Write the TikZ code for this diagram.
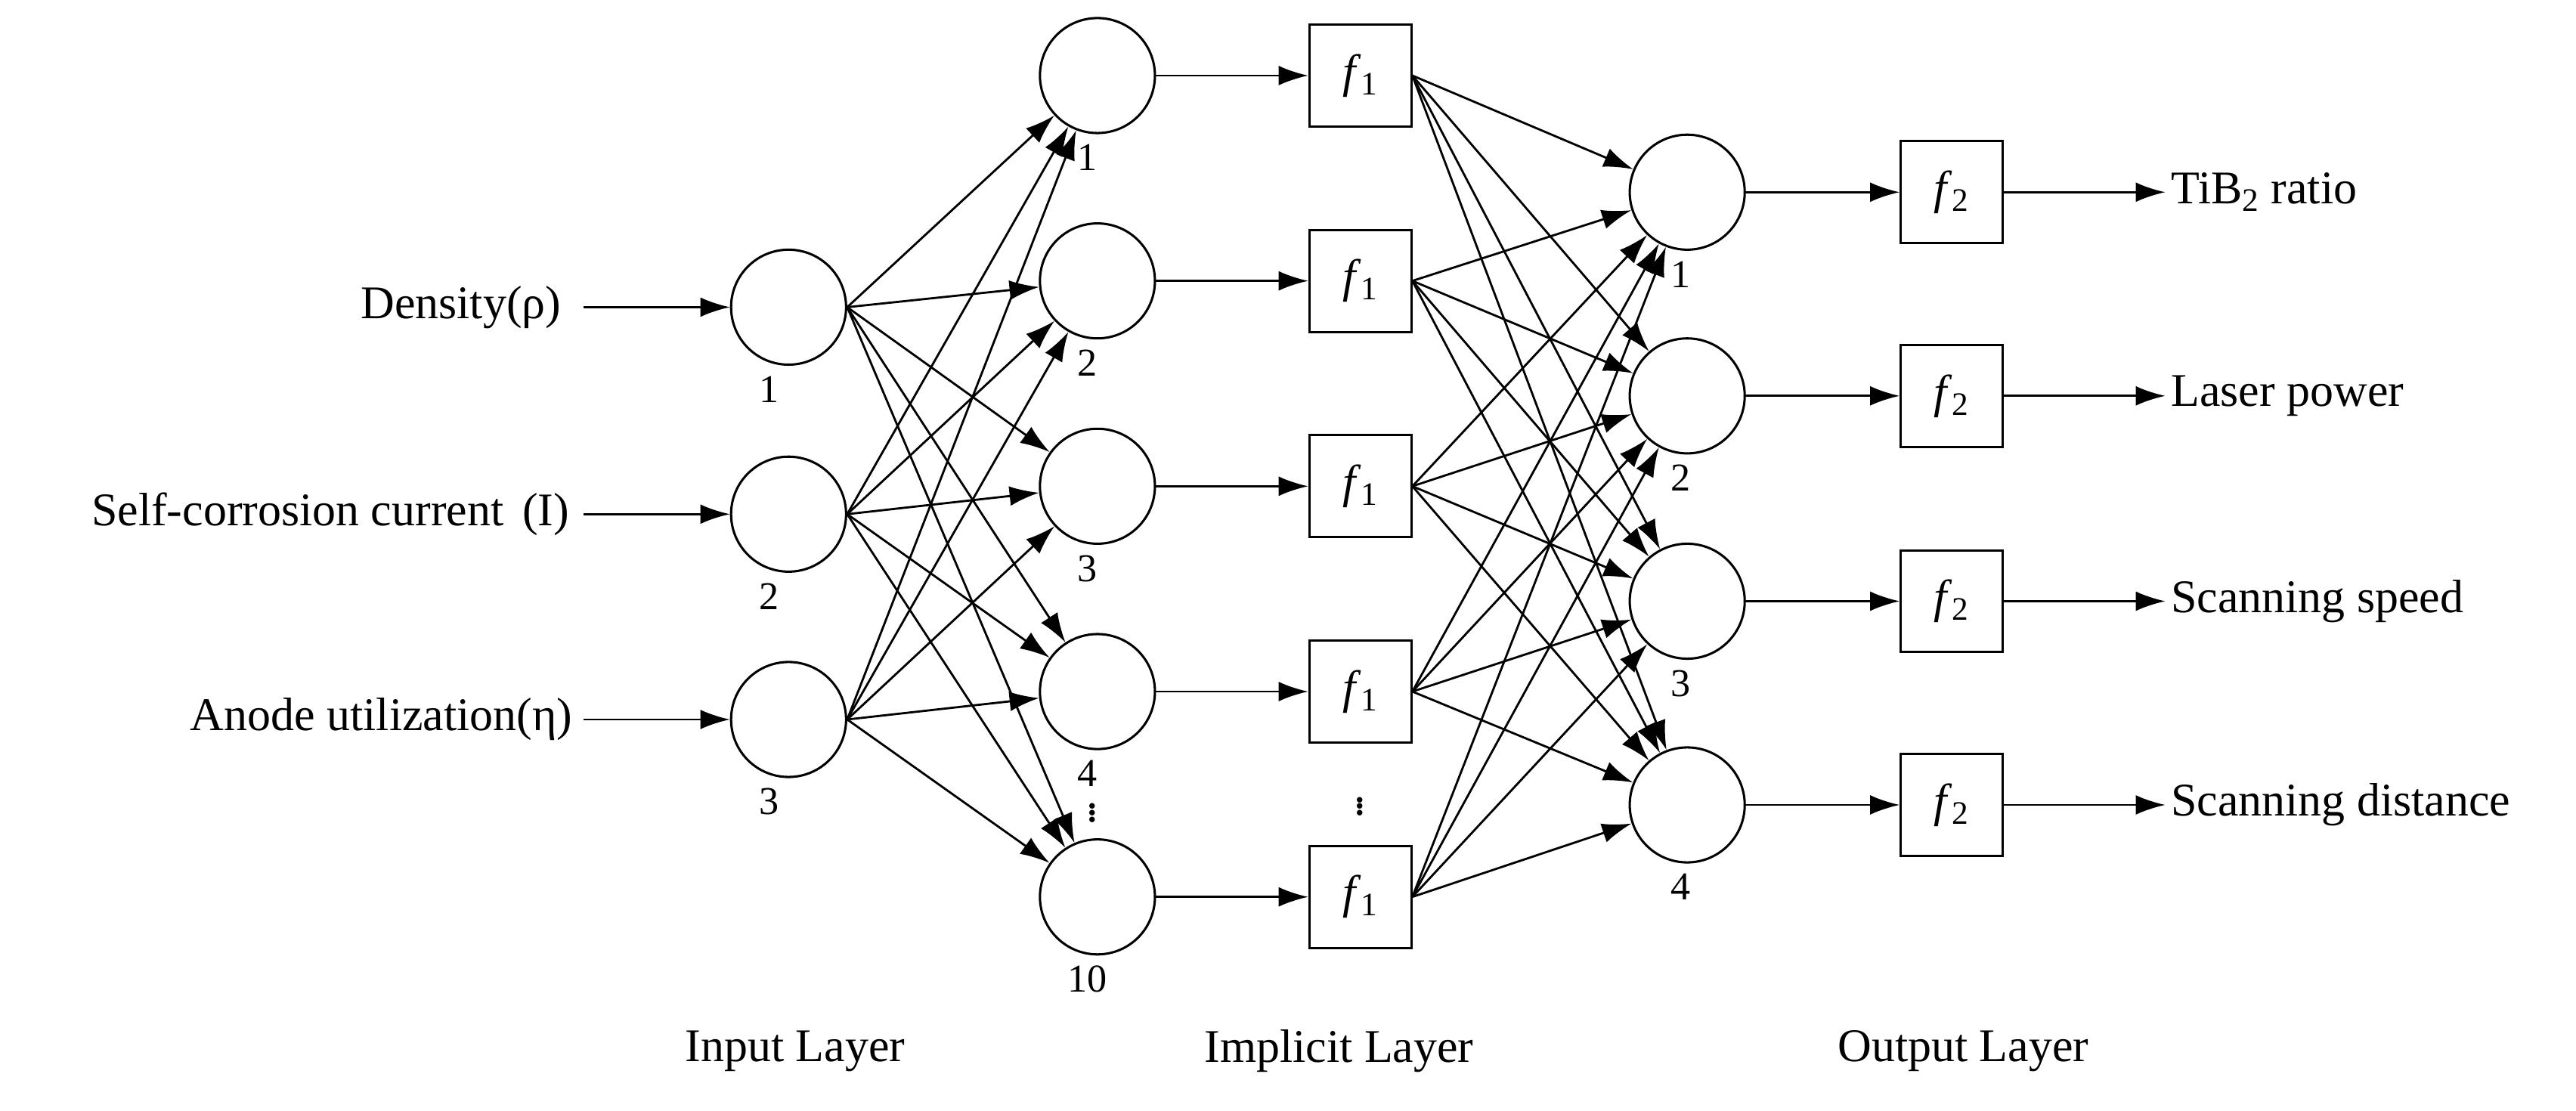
\documentclass[tikz,border=0pt]{standalone}
\usepackage{fontspec}
\setmainfont{Liberation Serif}
\usetikzlibrary{arrows.meta}
\begin{document}
\begin{tikzpicture}[x=1pt,y=-1pt,
  every node/.style={font=\fontsize{28.5}{32}\selectfont},
  neu/.style={circle,draw,line width=1.4pt,minimum size=70pt,inner sep=0},
  box/.style={draw,line width=1.4pt,minimum width=62pt,minimum height=62pt,inner sep=0},
  con/.style={line width=1.3pt,-{Latex[length=18pt,width=12pt]}},
  num/.style={font=\fontsize{24}{28}\selectfont}]
\useasboundingbox (0,0) rectangle (1568,676);
% input
\foreach \i/\y in {1/187,2/313,3/438}{
  \node[neu] (in\i) at (480,\y) {};
  \node[num] at (468,\y+50) {\i};
}
\node[anchor=east] (t1) at (345,187) {Density(ρ)};
\node[anchor=east] (t2) at (350,313) {Self-corrosion current\hspace{0.4em}(I)};
\node[anchor=east] (t3) at (352,438) {Anode utilization(η)};
\coordinate (s1) at (355,187);\coordinate (s2) at (355,313);\coordinate (s3) at (355,438);
\foreach \i in {1,2,3}{\draw[con] (s\i) -- (in\i);}
% hidden
\foreach \i/\y/\l in {1/46/1,2/171/2,3/296/3,4/421/4,5/546/10}{
  \node[neu] (h\i) at (668,\y) {};
  \node[num] at (662,\y+50) {\l};
  \node[box] (f\i) at (828,\y) {\textit{f}\textsubscript{1}};
  \draw[con] (h\i) -- (f\i);
}
\node at (665,492) {$\vdots$};
\node at (828,488) {$\vdots$};
\foreach \i in {1,2,3}{\foreach \j in {1,...,5}{\draw[con] (in\i.east) -- (h\j);}}
% output
\foreach \i/\y/\t in {1/117/{TiB\textsubscript{2} ratio},2/241/{Laser power},3/366/{Scanning speed},4/490/{Scanning distance}}{
  \node[neu] (o\i) at (1027,\y) {};
  \node[num] at (1023,\y+50) {\i};
  \node[box] (g\i) at (1188,\y) {\textit{f}\textsubscript{2}};
  \draw[con] (o\i) -- (g\i);
  \node[anchor=west] (r\i) at (1318,\y) {\t};
  \draw[con] (g\i) -- (r\i.west);
}
\foreach \i in {1,...,5}{\foreach \j in {1,...,4}{\draw[con] (f\i.east) -- (o\j);}}
% layer labels
\node (L1) at (484,640) {Input Layer};
\node (L2) at (815,640) {Implicit Layer};
\node (L3) at (1195,640) {Output Layer};
\end{tikzpicture}
\end{document}
